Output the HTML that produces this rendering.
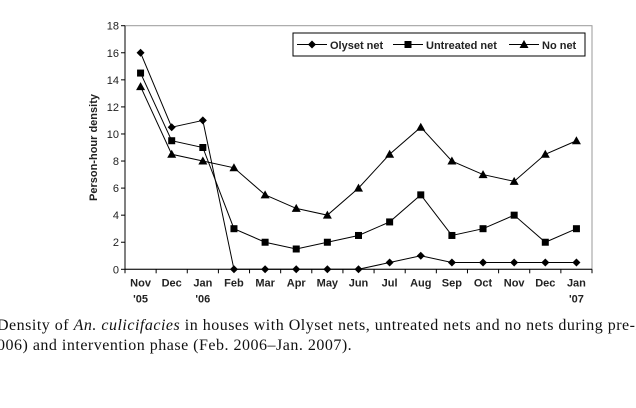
<!DOCTYPE html>
<html><head><meta charset="utf-8"><style>
body{margin:0;background:#fff;width:636px;height:408px;overflow:hidden;position:relative}
svg{position:absolute;left:0;top:0}
.cap{position:absolute;left:-3px;font-family:"Liberation Serif",serif;font-size:16px;letter-spacing:0.5px;color:#111;white-space:nowrap}
</style></head><body>
<svg width="636" height="408" font-family="Liberation Sans, sans-serif">
<g id="g"></g>
</svg>
<div class="cap" style="top:317px">Density of <i>An. culicifacies</i> in houses with Olyset nets, untreated nets and no nets during pre-i</div>
<div class="cap" style="top:337px">006) and intervention phase (Feb. 2006–Jan. 2007).</div>
<script>
const months=["Nov","Dec","Jan","Feb","Mar","Apr","May","Jun","Jul","Aug","Sep","Oct","Nov","Dec","Jan"];
const years=["'05","","'06","","","","","","","","","","","","'07"];
const olyset=[16,10.5,11,0,0,0,0,0,0.5,1,0.5,0.5,0.5,0.5,0.5];
const untreated=[14.5,9.5,9,3,2,1.5,2,2.5,3.5,5.5,2.5,3,4,2,3];
const nonet=[13.5,8.5,8,7.5,5.5,4.5,4,6,8.5,10.5,8,7,6.5,8.5,9.5];
const yTicks=[0,2,4,6,8,10,12,14,16,18];
const NS="http://www.w3.org/2000/svg",g=document.getElementById('g');
const L=125,R=592,T=25.7,B=269.3,bw=(R-L)/months.length;
const xs=i=>L+bw*(i+.5), ys=v=>B-(B-T)*v/18;
function mk(t,a,p){const e=document.createElementNS(NS,t);for(const k in a)e.setAttribute(k,a[k]);(p||g).appendChild(e);return e;}
let e=mk('rect',{x:L,y:T,width:R-L,height:B-T,fill:'none',stroke:'#999','stroke-width':1});


e=mk('line',{x1:L,y1:T,x2:L,y2:B,stroke:'#000'});


e=mk('line',{x1:L,y1:B,x2:R,y2:B,stroke:'#000'});


yTicks.forEach(v=>{
 mk('line',{x1:L-4,y1:ys(v),x2:L,y2:ys(v),stroke:'#000'});
 e=mk('text',{x:L-6,y:ys(v)+4,'text-anchor':'end','font-size':11,fill:'#222'});e.textContent=v;
 
 
});
for(let i=0;i<=months.length;i++)mk('line',{x1:L+bw*i,y1:B,x2:L+bw*i,y2:B+4,stroke:'#000'});
months.forEach((m,i)=>{
 e=mk('text',{x:xs(i),y:B+17,'text-anchor':'middle','font-size':11,'font-weight':'bold',fill:'#222'});e.textContent=m;
 
 
 if(years[i]){e=mk('text',{x:xs(i),y:B+33,'text-anchor':'middle','font-size':11,'font-weight':'bold',fill:'#222'});e.textContent=years[i];
 
 }
});
e=mk('text',{x:0,y:0,transform:`translate(97,${(T+B)/2}) rotate(-90)`,'text-anchor':'middle','font-size':11,'font-weight':'bold',fill:'#222'});
e.textContent='Person-hour density';


function marker(type,x,y,p){
 if(type==='d')return mk('polygon',{points:`${x},${y-4} ${x+4},${y} ${x},${y+4} ${x-4},${y}`,fill:'#000'},p);
 if(type==='s')return mk('rect',{x:x-3.5,y:y-3.5,width:7,height:7,fill:'#000'},p);
 return mk('polygon',{points:`${x},${y-4.5} ${x+4.5},${y+3.5} ${x-4.5},${y+3.5}`,fill:'#000'},p);
}
[[olyset,'d','olyset'],[untreated,'s','untreated'],[nonet,'t','no-net']].forEach(([d,t,n])=>{
 const sg=mk('g',{});
 
 
 mk('polyline',{points:d.map((v,i)=>xs(i)+','+ys(v)).join(' '),fill:'none',stroke:'#000','stroke-width':1},sg);
 d.forEach((v,i)=>{const m=marker(t,xs(i),ys(v),sg);
  
  });
});
const lg=mk('g',{});


mk('rect',{x:293,y:33,width:292,height:23,fill:'#fff',stroke:'#000'},lg);
[['d','Olyset net',297],['s','Untreated net',393],['t','No net',509]].forEach(([t,l,x])=>{
 mk('line',{x1:x,y1:44.5,x2:x+30,y2:44.5,stroke:'#000'},lg);marker(t,x+15,44.5,lg);
 const tx=mk('text',{x:x+33,y:49,'font-size':11,'font-weight':'bold',fill:'#222'},lg);tx.textContent=l;
 
 
});
</script>
</body></html>
